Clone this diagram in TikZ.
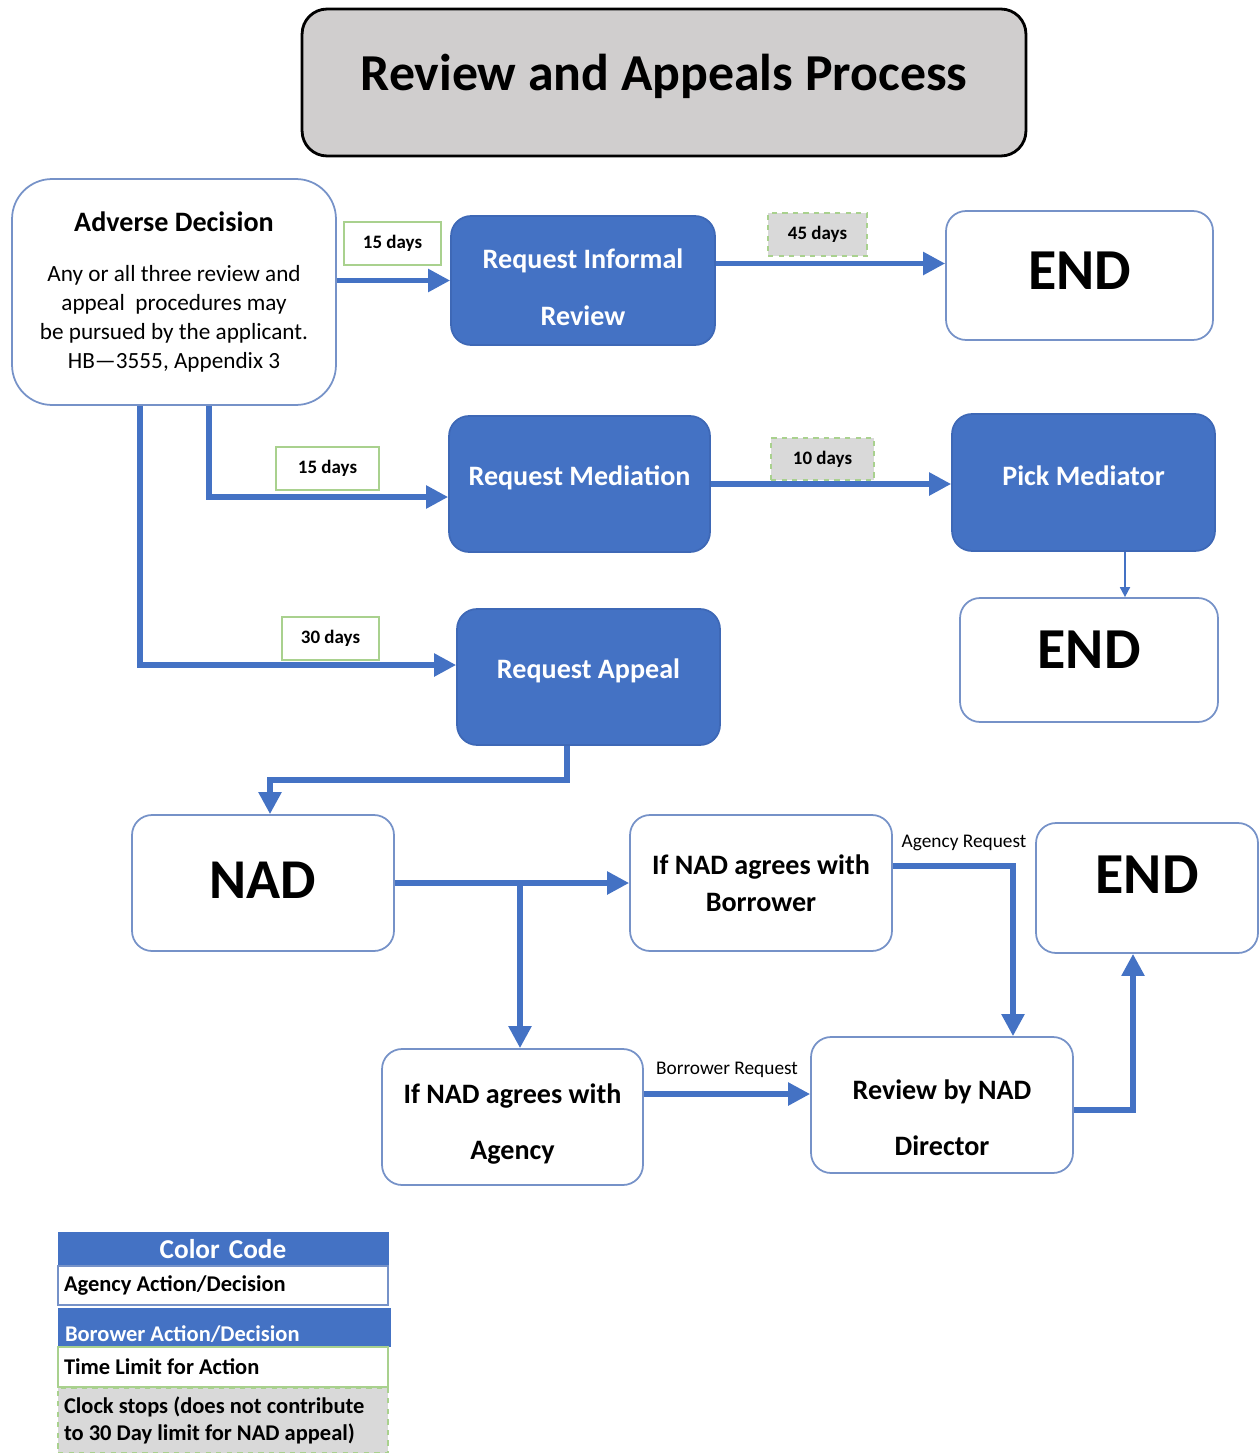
\documentclass[tikz,border=0pt]{standalone}
\usepackage{fontspec}
\setmainfont{Carlito}
\usetikzlibrary{arrows.meta,calc}
\definecolor{boxblue}{RGB}{68,114,196}
\definecolor{edgeblue}{RGB}{118,146,200}
\definecolor{limitgreen}{RGB}{169,209,142}
\definecolor{stopgray}{RGB}{217,217,217}
\definecolor{titlegray}{RGB}{208,206,206}

\begin{document}
\begin{tikzpicture}[x=0.02cm,y=-0.02cm,
    whitebox/.style={draw=edgeblue,line width=1pt,fill=white,rounded corners=0.4cm,align=center,inner sep=0pt},
    bluebox/.style={draw={rgb,255:red,62;green,104;blue,182},line width=1pt,fill=boxblue,text=white,rounded corners=0.4cm,align=center,inner sep=0pt,
      font=\fontsize{16}{19}\selectfont\bfseries},
    limit/.style={draw=limitgreen,line width=1pt,fill=white,minimum width=1.94cm,minimum height=0.86cm,inner sep=0pt,
      font=\fontsize{10.8}{13}\selectfont\bfseries},
    clockstop/.style={limit,fill=stopgray,dashed},
    flow/.style={draw=boxblue,line width=3pt,-{Triangle[length=4.4mm,width=4.4mm]}},
    endtext/.style={font=\fontsize{33}{36}\selectfont\bfseries},
    reqtext/.style={font=\fontsize{11}{13}\selectfont},
    legend/.style={minimum width=6.6cm,text width=6.36cm,inner xsep=0.12cm,inner ysep=0pt,
      align=flush left,font=\fontsize{12.8}{15.5}\selectfont\bfseries}]
  \useasboundingbox (0,0) rectangle (1259,1453);

  % title
  \node (title) at (664,82.5) [draw=black,line width=1.6pt,fill=titlegray,rounded corners=0.5cm,
    minimum width=14.48cm,minimum height=2.94cm,font=\fontsize{29.5}{34}\selectfont\bfseries,text depth=12pt] {Review and Appeals Process};

  %%%% nodes
  \node (adv) at (174,292) [whitebox,rounded corners=0.8cm,minimum width=6.48cm,minimum height=4.52cm,
    font=\fontsize{13.2}{16.4}\selectfont]
    {\fontsize{16}{18}\selectfont\bfseries Adverse Decision\\[12pt]
     Any or all three review and\\ appeal\ \ procedures may\\ be pursued by the applicant.\\ HB---3555, Appendix 3};
  \node (inf) at (583,280.5) [bluebox,minimum width=5.28cm,minimum height=2.58cm] {\rule{0pt}{19pt}Request Informal\\[13pt] Review};
  \node (end1) at (1079.5,275.5) [whitebox,minimum width=5.34cm,minimum height=2.58cm,endtext,text depth=5.7pt] {END};
  \node (d15a) at (392.5,243.5) [limit] {15 days};
  \node (d45) at (817.5,234.5) [clockstop,minimum width=1.98cm] {45 days};

  \node (med) at (579.5,484) [bluebox,minimum width=5.22cm,minimum height=2.72cm,text depth=9pt] {Request Mediation};
  \node (pick) at (1083.5,482.5) [bluebox,minimum width=5.26cm,minimum height=2.74cm,text depth=8pt] {Pick Mediator};
  \node (d15b) at (327.5,468.5) [limit,minimum width=2.06cm] {15 days};
  \node (d10) at (822.5,459) [clockstop,minimum width=2.06cm,minimum height=0.84cm] {10 days};
  \node (end2) at (1089,660) [whitebox,minimum width=5.16cm,minimum height=2.48cm,endtext,text depth=11.3pt] {END};

  \node (app) at (588.5,677) [bluebox,minimum width=5.26cm,minimum height=2.72cm,text depth=9pt] {Request Appeal};
  \node (d30) at (330.5,638.5) [limit] {30 days};

  \node (nad) at (263,883) [whitebox,minimum width=5.24cm,minimum height=2.72cm,
    font=\fontsize{32}{36}\selectfont\bfseries,text depth=3pt] {NAD};
  \node (agb) at (761,883) [whitebox,minimum width=5.24cm,minimum height=2.72cm,
    font=\fontsize{16}{21}\selectfont\bfseries] {If NAD agrees with\\ Borrower};
  \node (end3) at (1147,888) [whitebox,minimum width=4.44cm,minimum height=2.6cm,endtext,text depth=14.7pt] {END};
  \node (aga) at (512.5,1117) [whitebox,minimum width=5.22cm,minimum height=2.72cm,
    font=\fontsize{16}{19}\selectfont\bfseries] {\rule{0pt}{19pt}If NAD agrees with\\[13pt] Agency};
  \node (dir) at (942,1105) [whitebox,minimum width=5.24cm,minimum height=2.72cm,
    font=\fontsize{16}{19}\selectfont\bfseries] {\rule{0pt}{26pt}Review by NAD\\[13pt] Director};
  \node (areq) at (964,843) [reqtext] {Agency Request};
  \node (breq) at (727,1070) [reqtext] {Borrower Request};

  %%%% arcs
  \draw [flow] (adv.east |- inf.west) -- (inf.west);
  \draw [flow] ([yshift=3.4mm]inf.east) -- ([yshift=3.4mm]inf.east -| end1.west);
  \draw [flow] ([xshift=7mm]adv.south) |- ([yshift=-2.6mm]med.west);
  \draw [flow] (med.east) -- (med.east -| pick.west);
  \draw [draw=boxblue,line width=1pt,-{Triangle[length=2mm,width=2mm]}]
    ([xshift=8.3mm]pick.south) -- ([xshift=8.3mm]pick.south |- end2.north);
  \draw [flow] ([xshift=-6.8mm]adv.south) |- ([yshift=2.4mm]app.west);
  \draw [flow] ([xshift=-4.3mm]app.south) -- ++(0,34) -| ([xshift=1.4mm]nad.north);
  \draw [flow] (nad.east) -- (nad.east -| agb.west);
  \draw [flow] ([xshift=1.5mm]aga.north |- nad.east) -- ([xshift=1.5mm]aga.north);
  \draw [flow] ([yshift=3.4mm]agb.east) -| ([xshift=14.2mm]dir.north);
  \draw [flow] ([yshift=4.6mm]aga.east) -- ([yshift=4.6mm]aga.east -| dir.west);
  \draw [flow] ([yshift=-1mm]dir.east) -| ([xshift=-2.8mm]end3.south);

  %%%% legend
  \node (lcode) at (223,1249) [legend,draw=boxblue,fill=boxblue,text=white,minimum height=0.68cm,align=center,
    font=\fontsize{15.5}{17}\selectfont\bfseries] {Color Code};
  \node (lagency) at (223,1285.5) [legend,draw=edgeblue,line width=1pt,fill=white,minimum height=0.78cm] {Agency Action/Decision};
  \node (lborrower) at (224,1327.5) [legend,draw=boxblue,fill=boxblue,text=white,minimum width=6.64cm,minimum height=0.74cm,
    text height=19pt,text depth=3pt] {Borower Action/Decision};
  \node (llimit) at (223,1367) [legend,draw=limitgreen,line width=1pt,fill=white,minimum height=0.8cm] {Time Limit for Action};
  \node (lstop) at (223,1420.5) [legend,draw=limitgreen,line width=1pt,dashed,fill=stopgray,minimum height=1.3cm]
    {Clock stops (does not contribute\\ to 30 Day limit for NAD appeal)};
\end{tikzpicture}
\end{document}
